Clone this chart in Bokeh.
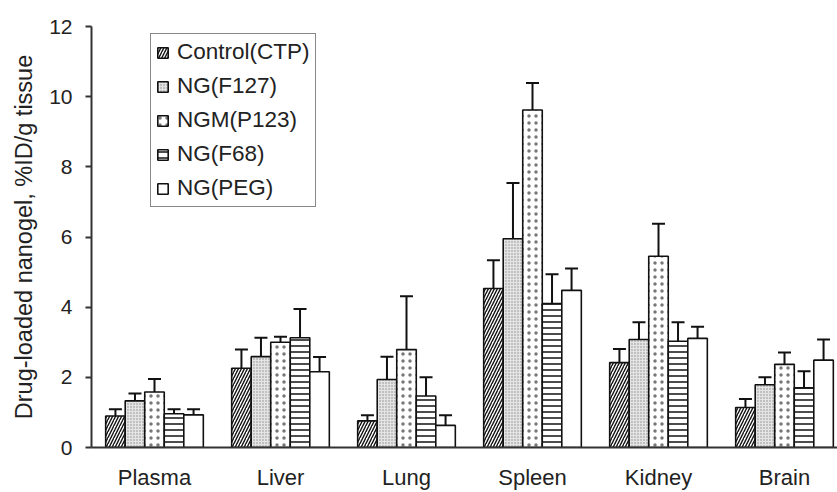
from bokeh.plotting import figure
from bokeh.models import (Range1d, FixedTicker, Whisker, TeeHead, ColumnDataSource,
                          Legend, LegendItem)
from bokeh.embed import file_html
from bokeh.resources import INLINE

# ---- data ----
tissues = ["Plasma", "Liver", "Lung", "Spleen", "Kidney", "Brain"]
series = ["Control(CTP)", "NG(F127)", "NGM(P123)", "NG(F68)", "NG(PEG)"]

ctrl_mean = [0.90, 2.26, 0.76, 4.53, 2.42, 1.14]
ctrl_sd = [0.19, 0.53, 0.16, 0.81, 0.39, 0.24]
f127_mean = [1.33, 2.59, 1.94, 5.95, 3.08, 1.79]
f127_sd = [0.21, 0.54, 0.65, 1.59, 0.49, 0.21]
p123_mean = [1.58, 3.00, 2.79, 9.62, 5.45, 2.37]
p123_sd = [0.37, 0.16, 1.52, 0.77, 0.93, 0.34]
f68_mean = [0.96, 3.13, 1.47, 4.10, 3.03, 1.70]
f68_sd = [0.13, 0.82, 0.53, 0.84, 0.54, 0.47]
peg_mean = [0.93, 2.16, 0.63, 4.48, 3.11, 2.49]
peg_sd = [0.16, 0.42, 0.29, 0.62, 0.33, 0.59]

y_ticks = [0, 2, 4, 6, 8, 10, 12]

means = [ctrl_mean, f127_mean, p123_mean, f68_mean, peg_mean]
sds = [ctrl_sd, f127_sd, p123_sd, f68_sd, peg_sd]

# ---- styles ----
styles = [
    dict(fill_color="white", hatch_pattern="/", hatch_color="#111111", hatch_scale=6, hatch_weight=1.4),
    dict(fill_color="#e4e4e4", hatch_pattern=".", hatch_color="#8a8a8a", hatch_scale=3, hatch_weight=1.0),
    dict(fill_color="white", hatch_pattern=".", hatch_color="#777777", hatch_scale=7, hatch_weight=1.1),
    dict(fill_color="white", hatch_pattern="-", hatch_color="#111111", hatch_scale=6, hatch_weight=1.5),
    dict(fill_color="white", hatch_pattern=" ", hatch_color="#111111", hatch_scale=6, hatch_weight=1.0),
]

FONT = "Liberation Sans"
TXT = "#222222"

p = figure(width=837, height=492, output_backend="svg", toolbar_location=None,
           x_range=Range1d(0, 746 / 126), y_range=Range1d(0, 12),
           min_border_left=91, min_border_right=0, min_border_top=26, min_border_bottom=44)
p.outline_line_color = None
p.xgrid.visible = False
p.ygrid.visible = False
p.background_fill_color = "white"
p.border_fill_color = "white"

bar_w = 0.155
items = []
centers = [i + 0.5 for i in range(len(tissues))]
for k, (name, m, s, st) in enumerate(zip(series, means, sds, styles)):
    xs = [c + (k - 2) * bar_w for c in centers]
    src = ColumnDataSource(dict(x=xs, top=m, upper=[a + b for a, b in zip(m, s)]))
    r = p.vbar(x="x", top="top", width=bar_w, source=src, line_color="#111111",
               line_width=1.6, **st)
    items.append(LegendItem(label=name, renderers=[r]))
    w = Whisker(base="x", lower="top", upper="upper", source=src, dimension="height",
                line_color="#111111", line_width=2,
                upper_head=TeeHead(size=13, line_color="#111111", line_width=2),
                lower_head=None)
    p.add_layout(w)

legend = Legend(items=items, location=(59, 240), border_line_color="#111111",
                border_line_width=1.5, background_fill_color="white", background_fill_alpha=1,
                label_text_font=FONT, label_text_font_size="22.5px", label_text_color=TXT,
                glyph_width=13, glyph_height=13, label_standoff=8, padding=5,
                spacing=8, label_height=24, margin=0)
p.add_layout(legend, "center")

# axes
xa = p.xaxis[0]
xa.ticker = FixedTicker(ticks=centers)
xa.major_label_overrides = {c: t for c, t in zip(centers, tissues)}
xa.major_tick_line_color = None
xa.minor_tick_line_color = None
xa.axis_line_color = "#333333"
xa.axis_line_width = 2
xa.major_label_text_font = FONT
xa.major_label_text_font_size = "22px"
xa.major_label_text_color = TXT
xa.major_label_standoff = 11

ya = p.yaxis[0]
ya.ticker = FixedTicker(ticks=y_ticks)
ya.minor_tick_line_color = None
ya.major_tick_in = 0
ya.major_tick_out = 6
ya.major_tick_line_width = 2
ya.major_tick_line_color = "#333333"
ya.axis_line_color = "#333333"
ya.axis_line_width = 2
ya.major_label_text_font = FONT
ya.major_label_text_font_size = "21px"
ya.major_label_text_color = TXT
ya.major_label_standoff = 13
ya.axis_label = "Drug-loaded nanogel, %ID/g tissue"
ya.axis_label_text_font = FONT
ya.axis_label_text_font_size = "23.5px"
ya.axis_label_text_font_style = "normal"
ya.axis_label_text_color = TXT
ya.axis_label_standoff = 9

open("out.html", "w").write(file_html(p, INLINE))
